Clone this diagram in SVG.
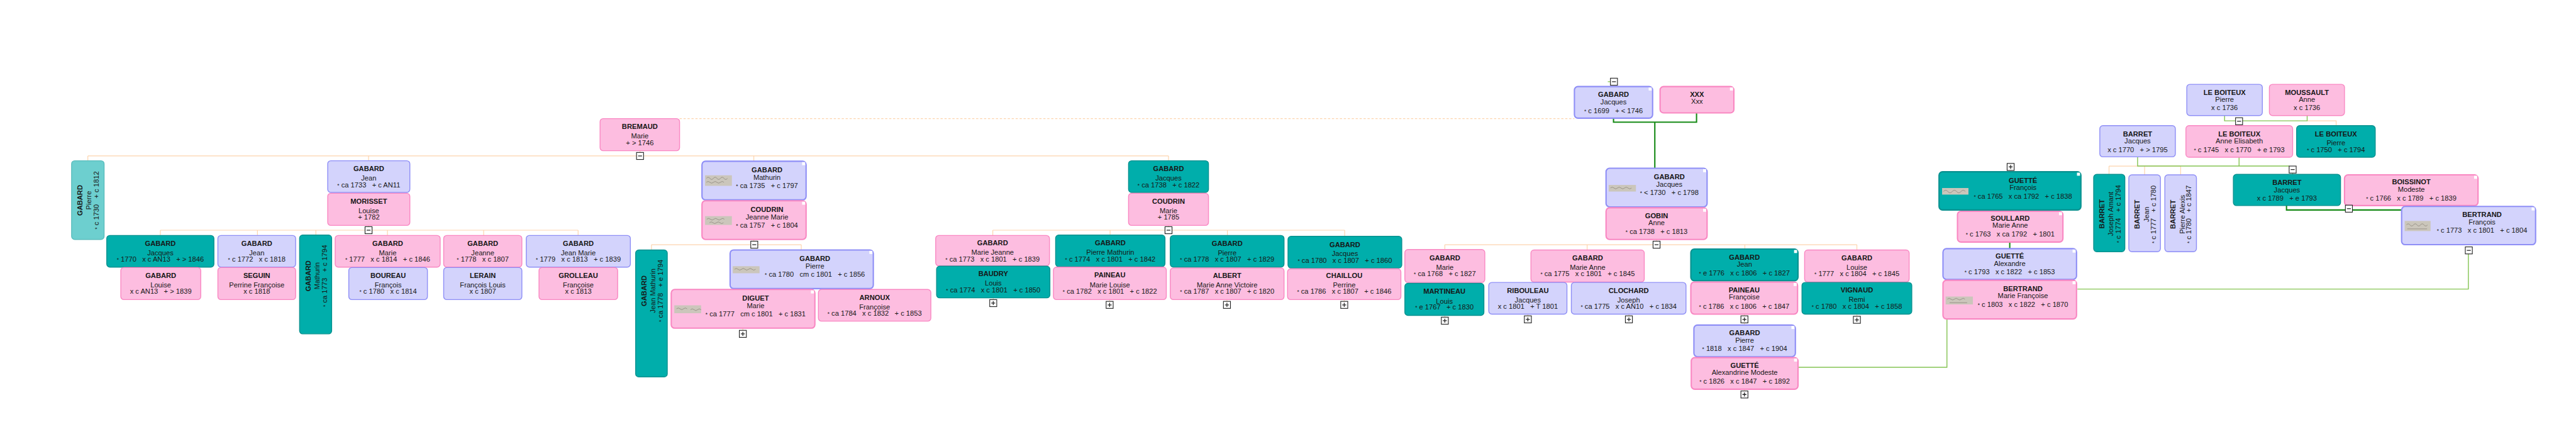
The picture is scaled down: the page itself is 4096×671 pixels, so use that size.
<svg xmlns="http://www.w3.org/2000/svg" width="4096" height="671" viewBox="0 0 4096 671" xml:space="preserve">
<style>
text{font-family:"Liberation Sans",Arial,sans-serif;font-size:16px;fill:#161616;text-anchor:middle;white-space:pre}
.sn{font-weight:bold}
.a{font-size:12px}
.node>rect{stroke-width:2}
.nt>rect{stroke-width:3}
.lv>rect{fill:#d3d3fc;stroke:#8e8ef6}
.pk>rect{fill:#fdbde0;stroke:#f987c2}
.tl>rect{fill:#00aeab;stroke:#07918f}
.lt>rect{fill:#6dcfcf;stroke:#5bbdbd}
.node>rect.sq{fill:#fff;stroke:none}
.node>rect.sig{fill:#cbc6bb;stroke:none}
.sgl{fill:none;stroke:#4a4238;stroke-width:1;opacity:.55}
.or{fill:none;stroke:#fdd4ad;stroke-width:1.7}
.dash{stroke-dasharray:5 4}
.dg{fill:none;stroke:#168a16;stroke-width:3}
.lg{fill:none;stroke:#84c451;stroke-width:2}
</style>
<defs>
<g id="minus"><rect x="-8" y="-8" width="16" height="16" fill="#fff" stroke="#222" stroke-width="1.6"/><path d="M-4.5 0H4.5" stroke="#222" stroke-width="1.8"/></g>
<g id="plus"><rect x="-8" y="-8" width="16" height="16" fill="#fff" stroke="#222" stroke-width="1.6"/><path d="M-4.5 0H4.5M0 -4.5V4.5" stroke="#222" stroke-width="1.8"/></g>
</defs>
<rect width="4096" height="671" fill="#fff"/>
<g transform="scale(0.6985)">
<g id="connectors">
<path class="or" d="M200 355H2660M200 355V366M839 355V366M1716 355V367M2660 355V366M1457 343V355"/>
<path class="or dash" d="M1547 270H3584"/>
<path class="or" d="M839 513V524M365 524H1316M365 524V536M586 524V536M719 524V535M882 524V536M1101 524V536M1316 524V536"/>
<path class="or" d="M1716 545V557M1483 557H1824M1483 557V569M1824 557V569"/>
<path class="or" d="M2660 513V524M2260 524H3061M2260 524V536M2527 524V535M2794 524V536M3061 524V538"/>
<path class="or" d="M3771 545V557M3289 557H4227M3289 557V568M3613 557V569M3972 557V567M4227 557V569M3971 715V740"/>
<path class="or" d="M1691 747V752M2261 678V682M2526 682V686M2793 682V686M3060 682V686M3289 718V722M3478 715V719M3708 715V719M4227 715V720M3971 886V890M4577 388V391"/>
<path class="or" d="M4801 378H4964M4801 378V397M4882 378V398M4964 378V398M5252 275H5318V286"/>
<path class="dg" d="M3673 269V278H3862V257M3767 278V383M4575 550V566M5205 468V478H5467"/>
<path class="lg" d="M3660 186H3666M5064 263V275H5252V263M5097 284V286M4866 357V378H5211M5097 358V378M5219 394V397M4729 658H5619V578M4094 836H4432V726"/>
</g>
<g id="n1" class="node lt"><rect x="163" y="366" width="74" height="179" rx="7"/><g transform="translate(163 456) rotate(-90)"><text class="sn" y="25">GABARD</text><text y="45">Pierre</text><text y="62"><tspan class="a">*</tspan> c 1730   + c 1812</text></g></g>
<g id="n2" class="node lv"><rect x="746" y="366" width="187" height="72" rx="7"/><text class="sn" x="839.5" y="390">GABARD</text><text x="839.5" y="411">Jean</text><text x="839.5" y="426"><tspan class="a">*</tspan> ca 1733   + c AN11</text></g>
<g id="n3" class="node pk"><rect x="746" y="440" width="187" height="73" rx="7"/><text class="sn" x="839.5" y="464">MORISSET</text><text x="839.5" y="485">Louise</text><text x="839.5" y="500">+ 1782</text></g>
<g id="n4" class="node pk"><rect x="1366" y="270" width="181" height="73" rx="7"/><text class="sn" x="1456.5" y="294">BREMAUD</text><text x="1456.5" y="315">Marie</text><text x="1456.5" y="330">+ &gt; 1746</text></g>
<g id="n5" class="node tl"><rect x="243" y="536" width="244" height="72" rx="7"/><text class="sn" x="365" y="560">GABARD</text><text x="365" y="581">Jacques</text><text x="365" y="596"><tspan class="a">*</tspan> 1770   x c AN13   + &gt; 1846</text></g>
<g id="n6" class="node pk"><rect x="275" y="609" width="182" height="73" rx="7"/><text class="sn" x="366" y="633">GABARD</text><text x="366" y="654">Louise</text><text x="366" y="669">x c AN13   + &gt; 1839</text></g>
<g id="n7" class="node lv"><rect x="496" y="536" width="177" height="72" rx="7"/><text class="sn" x="584.5" y="560">GABARD</text><text x="584.5" y="581">Jean</text><text x="584.5" y="596"><tspan class="a">*</tspan> c 1772   x c 1818</text></g>
<g id="n8" class="node pk"><rect x="496" y="609" width="177" height="73" rx="7"/><text class="sn" x="584.5" y="633">SEGUIN</text><text x="584.5" y="654">Perrine Françoise</text><text x="584.5" y="669">x c 1818</text></g>
<g id="n9" class="node tl"><rect x="682" y="535" width="73" height="225" rx="7"/><g transform="translate(682 628) rotate(-90)"><text class="sn" y="25">GABARD</text><text y="45">Mathurin</text><text y="62"><tspan class="a">*</tspan> ca 1773   + c 1794</text></g></g>
<g id="n10" class="node pk"><rect x="763" y="536" width="239" height="72" rx="7"/><text class="sn" x="882.5" y="560">GABARD</text><text x="882.5" y="581">Marie</text><text x="882.5" y="596"><tspan class="a">*</tspan> 1777   x c 1814   + c 1846</text></g>
<g id="n11" class="node lv"><rect x="794" y="609" width="179" height="73" rx="7"/><text class="sn" x="883.5" y="633">BOUREAU</text><text x="883.5" y="654">François</text><text x="883.5" y="669"><tspan class="a">*</tspan> c 1780   x c 1814</text></g>
<g id="n12" class="node pk"><rect x="1010" y="536" width="178" height="72" rx="7"/><text class="sn" x="1099" y="560">GABARD</text><text x="1099" y="581">Jeanne</text><text x="1099" y="596"><tspan class="a">*</tspan> 1778   x c 1807</text></g>
<g id="n13" class="node lv"><rect x="1010" y="609" width="178" height="73" rx="7"/><text class="sn" x="1099" y="633">LERAIN</text><text x="1099" y="654">François Louis</text><text x="1099" y="669">x c 1807</text></g>
<g id="n14" class="node lv"><rect x="1198" y="536" width="237" height="72" rx="7"/><text class="sn" x="1316.5" y="560">GABARD</text><text x="1316.5" y="581">Jean Marie</text><text x="1316.5" y="596"><tspan class="a">*</tspan> 1779   x c 1813   + c 1839</text></g>
<g id="n15" class="node pk"><rect x="1227" y="609" width="179" height="73" rx="7"/><text class="sn" x="1316.5" y="633">GROLLEAU</text><text x="1316.5" y="654">Françoise</text><text x="1316.5" y="669">x c 1813</text></g>
<g id="n16" class="node tl"><rect x="1447" y="569" width="72" height="289" rx="7"/><g transform="translate(1447 662) rotate(-90)"><text class="sn" y="25">GABARD</text><text y="45">Jean Mathurin</text><text y="62"><tspan class="a">*</tspan> ca 1778   + e 1794</text></g></g>
<g id="n17" class="node nt lv"><rect x="1598" y="367" width="237" height="88" rx="8"/><rect class="sq" x="1826" y="369" width="7" height="7"/><rect class="sig" x="1605" y="399" width="61" height="24"/><path class="sgl" d="M1608 406q4-5 8 0t8 0t8 0t8 0t8 0t8 0M1608 415q4-4 8 0t8 0t8 0t8 0t8 0"/><text class="sn" x="1746" y="392">GABARD</text><text x="1746" y="409">Mathurin</text><text x="1746" y="428"><tspan class="a">*</tspan> ca 1735   + c 1797</text></g>
<g id="n18" class="node nt pk"><rect x="1598" y="457" width="237" height="88" rx="8"/><rect class="sq" x="1826" y="459" width="7" height="7"/><rect class="sig" x="1605" y="492" width="61" height="20"/><path class="sgl" d="M1609 499q4-4 8 0t8 0t8 0t8 0t8 0M1615 507q4-4 8 0t8 0t8 0t8 0"/><text class="sn" x="1746" y="482">COUDRIN</text><text x="1746" y="499">Jeanne Marie</text><text x="1746" y="518"><tspan class="a">*</tspan> ca 1757   + c 1804</text></g>
<g id="n19" class="node nt lv"><rect x="1662" y="569" width="326" height="88" rx="8"/><rect class="sq" x="1979" y="571" width="7" height="7"/><rect class="sig" x="1668" y="606" width="61" height="16"/><path class="sgl" d="M1672 613q4-4 8 0t8 0t8 0t8 0t8 0t8 0"/><text class="sn" x="1855" y="594">GABARD</text><text x="1855" y="611">Pierre</text><text x="1855" y="630"><tspan class="a">*</tspan> ca 1780   cm c 1801   + c 1856</text></g>
<g id="n20" class="node nt pk"><rect x="1528" y="659" width="327" height="88" rx="8"/><rect class="sq" x="1846" y="661" width="7" height="7"/><rect class="sig" x="1535" y="695" width="61" height="18"/><path class="sgl" d="M1540 703q4-4 8 0t8 0t8 0M1572 705q4-4 8 0t8 0t8 0"/><text class="sn" x="1720" y="684">DIGUET</text><text x="1720" y="701">Marie</text><text x="1720" y="720"><tspan class="a">*</tspan> ca 1777   cm c 1801   + c 1831</text></g>
<g id="n21" class="node pk"><rect x="1863" y="659" width="256" height="72" rx="7"/><text class="sn" x="1991" y="683">ARNOUX</text><text x="1991" y="704">Françoise</text><text x="1991" y="719"><tspan class="a">*</tspan> ca 1784   x c 1832   + c 1853</text></g>
<g id="n22" class="node tl"><rect x="2569" y="366" width="182" height="72" rx="7"/><text class="sn" x="2660" y="390">GABARD</text><text x="2660" y="411">Jacques</text><text x="2660" y="426"><tspan class="a">*</tspan> ca 1738   + c 1822</text></g>
<g id="n23" class="node pk"><rect x="2569" y="440" width="182" height="73" rx="7"/><text class="sn" x="2660" y="464">COUDRIN</text><text x="2660" y="485">Marie</text><text x="2660" y="500">+ 1785</text></g>
<g id="n24" class="node pk"><rect x="2130" y="536" width="259" height="69" rx="7"/><text class="sn" x="2259.5" y="559">GABARD</text><text x="2259.5" y="580">Marie Jeanne</text><text x="2259.5" y="596"><tspan class="a">*</tspan> ca 1773   x c 1801   + c 1839</text></g>
<g id="n25" class="node tl"><rect x="2132" y="606" width="258" height="72" rx="7"/><text class="sn" x="2261" y="629">BAUDRY</text><text x="2261" y="650">Louis</text><text x="2261" y="665"><tspan class="a">*</tspan> ca 1774   x c 1801   + c 1850</text></g>
<g id="n26" class="node tl"><rect x="2403" y="535" width="249" height="72" rx="7"/><text class="sn" x="2527.5" y="559">GABARD</text><text x="2527.5" y="580">Pierre Mathurin</text><text x="2527.5" y="595"><tspan class="a">*</tspan> c 1774   x c 1801   + c 1842</text></g>
<g id="n27" class="node pk"><rect x="2398" y="608" width="257" height="74" rx="7"/><text class="sn" x="2526.5" y="632">PAINEAU</text><text x="2526.5" y="654">Marie Louise</text><text x="2526.5" y="669"><tspan class="a">*</tspan> ca 1782   x c 1801   + c 1822</text></g>
<g id="n28" class="node tl"><rect x="2664" y="536" width="259" height="72" rx="7"/><text class="sn" x="2793.5" y="560">GABARD</text><text x="2793.5" y="581">Pierre</text><text x="2793.5" y="596"><tspan class="a">*</tspan> ca 1778   x c 1807   + c 1829</text></g>
<g id="n29" class="node pk"><rect x="2664" y="610" width="259" height="72" rx="7"/><text class="sn" x="2793.5" y="633">ALBERT</text><text x="2793.5" y="654">Marie Anne Victoire</text><text x="2793.5" y="669"><tspan class="a">*</tspan> ca 1787   x c 1807   + c 1820</text></g>
<g id="n30" class="node tl"><rect x="2932" y="538" width="259" height="72" rx="7"/><text class="sn" x="3061.5" y="562">GABARD</text><text x="3061.5" y="583">Jacques</text><text x="3061.5" y="598"><tspan class="a">*</tspan> ca 1780   x c 1807   + c 1860</text></g>
<g id="n31" class="node pk"><rect x="2931" y="612" width="258" height="70" rx="7"/><text class="sn" x="3060" y="633">CHAILLOU</text><text x="3060" y="654">Perrine</text><text x="3060" y="669"><tspan class="a">*</tspan> ca 1786   x c 1807   + c 1846</text></g>
<g id="n32" class="node pk"><rect x="3198" y="568" width="182" height="75" rx="7"/><text class="sn" x="3289" y="592">GABARD</text><text x="3289" y="614">Marie</text><text x="3289" y="629"><tspan class="a">*</tspan> ca 1768   + c 1827</text></g>
<g id="n33" class="node tl"><rect x="3198" y="645" width="180" height="73" rx="7"/><text class="sn" x="3288" y="669">MARTINEAU</text><text x="3288" y="691">Louis</text><text x="3288" y="705"><tspan class="a">*</tspan> e 1767   + c 1830</text></g>
<g id="n34" class="node pk"><rect x="3485" y="569" width="258" height="73" rx="7"/><text class="sn" x="3614" y="593">GABARD</text><text x="3614" y="614">Marie Anne</text><text x="3614" y="629"><tspan class="a">*</tspan> ca 1775   x c 1801   + c 1845</text></g>
<g id="n35" class="node lv"><rect x="3389" y="643" width="178" height="72" rx="7"/><text class="sn" x="3478" y="667">RIBOULEAU</text><text x="3478" y="688">Jacques</text><text x="3478" y="703">x c 1801   + T 1801</text></g>
<g id="n36" class="node lv"><rect x="3577" y="643" width="261" height="72" rx="7"/><text class="sn" x="3707.5" y="667">CLOCHARD</text><text x="3707.5" y="688">Joseph</text><text x="3707.5" y="703"><tspan class="a">*</tspan> ca 1775   x c AN10   + c 1834</text></g>
<g id="n37" class="node nt lv"><rect x="3584" y="197" width="178" height="72" rx="8"/><rect class="sq" x="3753" y="199" width="7" height="7"/><text class="sn" x="3673" y="221">GABARD</text><text x="3673" y="237">Jacques</text><text x="3673" y="257"><tspan class="a">*</tspan> c 1699   + &lt; 1746</text></g>
<g id="n38" class="node nt pk"><rect x="3779" y="197" width="168" height="60" rx="8"/><rect class="sq" x="3938" y="199" width="7" height="7"/><text class="sn" x="3863" y="220">XXX</text><text x="3863" y="236">Xxx</text></g>
<g id="n39" class="node nt lv"><rect x="3656" y="383" width="230" height="88" rx="8"/><rect class="sq" x="3877" y="385" width="7" height="7"/><rect class="sig" x="3662" y="421" width="62" height="15"/><path class="sgl" d="M3666 428q4-4 8 0t8 0t8 0t8 0t8 0t8 0"/><text class="sn" x="3800" y="408">GABARD</text><text x="3800" y="425">Jacques</text><text x="3800" y="444"><tspan class="a">*</tspan> &lt; 1730   + c 1798</text></g>
<g id="n40" class="node nt pk"><rect x="3656" y="473" width="230" height="72" rx="8"/><rect class="sq" x="3877" y="475" width="7" height="7"/><text class="sn" x="3771" y="497">GOBIN</text><text x="3771" y="513">Anne</text><text x="3771" y="533"><tspan class="a">*</tspan> ca 1738   + c 1813</text></g>
<g id="n41" class="node nt tl"><rect x="3849" y="567" width="244" height="72" rx="8"/><rect class="sq" x="4084" y="569" width="7" height="7"/><text class="sn" x="3971" y="591">GABARD</text><text x="3971" y="607">Jean</text><text x="3971" y="627"><tspan class="a">*</tspan> e 1776   x c 1806   + c 1827</text></g>
<g id="n42" class="node nt pk"><rect x="3849" y="642" width="243" height="73" rx="8"/><rect class="sq" x="4083" y="644" width="7" height="7"/><text class="sn" x="3970.5" y="666">PAINEAU</text><text x="3970.5" y="682">Françoise</text><text x="3970.5" y="703"><tspan class="a">*</tspan> c 1786   x c 1806   + c 1847</text></g>
<g id="n43" class="node pk"><rect x="4108" y="569" width="238" height="73" rx="7"/><text class="sn" x="4227" y="593">GABARD</text><text x="4227" y="614">Louise</text><text x="4227" y="629"><tspan class="a">*</tspan> 1777   x c 1804   + c 1845</text></g>
<g id="n44" class="node tl"><rect x="4102" y="643" width="250" height="72" rx="7"/><text class="sn" x="4227" y="666">VIGNAUD</text><text x="4227" y="687">Remi</text><text x="4227" y="703"><tspan class="a">*</tspan> c 1780   x c 1804   + c 1858</text></g>
<g id="n45" class="node nt lv"><rect x="3856" y="740" width="231" height="72" rx="8"/><rect class="sq" x="4078" y="742" width="7" height="7"/><text class="sn" x="3971.5" y="763">GABARD</text><text x="3971.5" y="780">Pierre</text><text x="3971.5" y="799"><tspan class="a">*</tspan> 1818   x c 1847   + c 1904</text></g>
<g id="n46" class="node nt pk"><rect x="3850" y="814" width="243" height="72" rx="8"/><rect class="sq" x="4084" y="816" width="7" height="7"/><text class="sn" x="3971.5" y="837">GUETTÉ</text><text x="3971.5" y="853">Alexandrine Modeste</text><text x="3971.5" y="873"><tspan class="a">*</tspan> c 1826   x c 1847   + c 1892</text></g>
<g id="n47" class="node nt tl"><rect x="4414" y="391" width="323" height="87" rx="8"/><rect class="sq" x="4728" y="393" width="7" height="7"/><rect class="sig" x="4421" y="428" width="60" height="15"/><path class="sgl" d="M4424 436q5-6 10 0t10 0t10 0t10 0t10 0"/><text class="sn" x="4605" y="416">GUETTÉ</text><text x="4605" y="432">François</text><text x="4605" y="452"><tspan class="a">*</tspan> ca 1765   x ca 1792   + c 1838</text></g>
<g id="n48" class="node nt pk"><rect x="4456" y="481" width="240" height="70" rx="8"/><rect class="sq" x="4687" y="483" width="7" height="7"/><text class="sn" x="4576" y="502">SOULLARD</text><text x="4576" y="518">Marie Anne</text><text x="4576" y="538"><tspan class="a">*</tspan> c 1763   x ca 1792   + 1801</text></g>
<g id="n49" class="node nt lv"><rect x="4423" y="566" width="304" height="70" rx="8"/><rect class="sq" x="4718" y="568" width="7" height="7"/><text class="sn" x="4575" y="588">GUETTÉ</text><text x="4575" y="605">Alexandre</text><text x="4575" y="624"><tspan class="a">*</tspan> c 1793   x c 1822   + c 1853</text></g>
<g id="n50" class="node nt pk"><rect x="4423" y="638" width="304" height="88" rx="8"/><rect class="sq" x="4718" y="640" width="7" height="7"/><rect class="sig" x="4429" y="675" width="62" height="18"/><path class="sgl" d="M4433 681q4-4 8 0t8 0t8 0t8 0t8 0M4438 689h40"/><text class="sn" x="4605" y="663">BERTRAND</text><text x="4605" y="679">Marie Françoise</text><text x="4605" y="699"><tspan class="a">*</tspan> c 1803   x c 1822   + c 1870</text></g>
<g id="n51" class="node lv"><rect x="4780" y="286" width="172" height="71" rx="7"/><text class="sn" x="4866" y="310">BARRET</text><text x="4866" y="327">Jacques</text><text x="4866" y="346">x c 1770   + &gt; 1795</text></g>
<g id="n52" class="node tl"><rect x="4766" y="397" width="71" height="176" rx="7"/><g transform="translate(4766 487) rotate(-90)"><text class="sn" y="24">BARRET</text><text y="45">Joseph Amant</text><text y="61"><tspan class="a">*</tspan> c 1774   + c 1794</text></g></g>
<g id="n53" class="node lv"><rect x="4846" y="398" width="72" height="175" rx="7"/><g transform="translate(4846 488) rotate(-90)"><text class="sn" y="25">BARRET</text><text y="46">Jean</text><text y="61"><tspan class="a">*</tspan> c 1777   + c 1780</text></g></g>
<g id="n54" class="node lv"><rect x="4928" y="398" width="72" height="175" rx="7"/><g transform="translate(4928 488) rotate(-90)"><text class="sn" y="24">BARRET</text><text y="45">Pierre Alexis</text><text y="60"><tspan class="a">*</tspan> c 1780   + c 1847</text></g></g>
<g id="n55" class="node lv"><rect x="4978" y="192" width="172" height="71" rx="7"/><text class="sn" x="5064" y="216">LE BOITEUX</text><text x="5064" y="232">Pierre</text><text x="5064" y="251">x c 1736</text></g>
<g id="n56" class="node pk"><rect x="5166" y="192" width="171" height="71" rx="7"/><text class="sn" x="5251.5" y="216">MOUSSAULT</text><text x="5251.5" y="232">Anne</text><text x="5251.5" y="251">x c 1736</text></g>
<g id="n57" class="node pk"><rect x="4976" y="286" width="243" height="72" rx="7"/><text class="sn" x="5097.5" y="310">LE BOITEUX</text><text x="5097.5" y="326">Anne Elisabeth</text><text x="5097.5" y="346"><tspan class="a">*</tspan> c 1745   x c 1770   + e 1793</text></g>
<g id="n58" class="node tl"><rect x="5228" y="286" width="179" height="72" rx="7"/><text class="sn" x="5317.5" y="310">LE BOITEUX</text><text x="5317.5" y="331">Pierre</text><text x="5317.5" y="346"><tspan class="a">*</tspan> c 1750   + c 1794</text></g>
<g id="n59" class="node tl"><rect x="5084" y="397" width="244" height="71" rx="7"/><text class="sn" x="5206" y="421">BARRET</text><text x="5206" y="438">Jacques</text><text x="5206" y="457">x c 1789   + e 1793</text></g>
<g id="n60" class="node nt pk"><rect x="5337" y="398" width="304" height="70" rx="8"/><rect class="sq" x="5632" y="400" width="7" height="7"/><text class="sn" x="5489" y="420">BOISSINOT</text><text x="5489" y="437">Modeste</text><text x="5489" y="456"><tspan class="a">*</tspan> c 1766   x c 1789   + c 1839</text></g>
<g id="n61" class="node nt lv"><rect x="5467" y="470" width="305" height="87" rx="8"/><rect class="sq" x="5763" y="472" width="7" height="7"/><rect class="sig" x="5474" y="503" width="59" height="23"/><path class="sgl" d="M5478 512q4-5 8 0t8 0t8 0t8 0t8 0t8 0M5480 521h45"/><text class="sn" x="5650" y="494">BERTRAND</text><text x="5650" y="511">François</text><text x="5650" y="530"><tspan class="a">*</tspan> c 1773   x c 1801   + c 1804</text></g>
<g id="buttons">
<use href="#minus" x="1457" y="355"/><use href="#minus" x="839" y="524"/><use href="#minus" x="1717" y="557"/><use href="#minus" x="2660" y="524"/><use href="#minus" x="3771" y="557"/><use href="#minus" x="3674" y="186"/><use href="#minus" x="5097" y="276"/><use href="#minus" x="5219" y="386"/><use href="#minus" x="5347" y="475"/><use href="#minus" x="5620" y="570"/>
<use href="#plus" x="1691" y="760"/><use href="#plus" x="2261" y="690"/><use href="#plus" x="2526" y="694"/><use href="#plus" x="2793" y="694"/><use href="#plus" x="3060" y="694"/><use href="#plus" x="3289" y="730"/><use href="#plus" x="3478" y="727"/><use href="#plus" x="3708" y="727"/><use href="#plus" x="3971" y="727"/><use href="#plus" x="4227" y="728"/><use href="#plus" x="3971" y="898"/><use href="#plus" x="4577" y="380"/>
</g>
</g>
</svg>
